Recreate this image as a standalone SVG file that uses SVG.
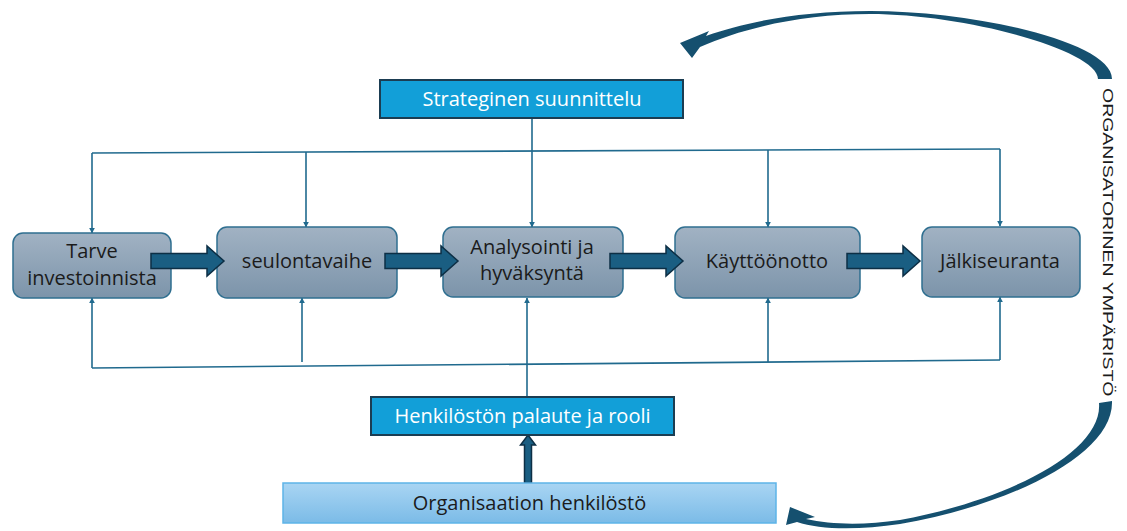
<svg xmlns="http://www.w3.org/2000/svg" width="1127" height="531" viewBox="0 0 1127 531">
<style>
.node rect{fill:url(#ng);stroke:#2f6f90;stroke-width:1.5}
.nt{font-family:"Open Sans","Liberation Sans",sans-serif;font-size:20px;fill:#1b1b1b;text-anchor:middle}
.bt{font-family:"Open Sans","Liberation Sans",sans-serif;font-size:20px;fill:#ffffff;text-anchor:middle}
.conn{fill:none;stroke:#206a8e;stroke-width:1.6}
.big{fill:#1a5e82;stroke:#0d2f45;stroke-width:1.5}
.curve{fill:#15506f}
</style>
<defs>
<linearGradient id="ng" x1="0" y1="0" x2="0" y2="1">
<stop offset="0" stop-color="#a1b2c3"/>
<stop offset="1" stop-color="#7c94aa"/>
</linearGradient>
<linearGradient id="og" x1="0" y1="0" x2="0" y2="1">
<stop offset="0" stop-color="#a9d5f3"/>
<stop offset="1" stop-color="#7bbbe7"/>
</linearGradient>
<marker id="ah" viewBox="0 0 10 10" refX="9" refY="5" markerWidth="6" markerHeight="6" markerUnits="userSpaceOnUse" orient="auto">
<path d="M0,0 L10,5 L0,10 Z" fill="#206a8e"/>
</marker>
</defs>

<g id="connectors">
<path class="conn" d="M92,153 L1000,149"/>
<path class="conn" d="M92,153 L92,233" marker-end="url(#ah)"/>
<path class="conn" d="M306,152 L306,227" marker-end="url(#ah)"/>
<path class="conn" d="M532,119 L532,227" marker-end="url(#ah)"/>
<path class="conn" d="M768,150 L768,227" marker-end="url(#ah)"/>
<path class="conn" d="M1000,149 L1000,226" marker-end="url(#ah)"/>
<path class="conn" d="M92,368 L1000,360"/>
<path class="conn" d="M92,368 L92,298" marker-end="url(#ah)"/>
<path class="conn" d="M302,362 L302,298" marker-end="url(#ah)"/>
<path class="conn" d="M527,397 L527,298" marker-end="url(#ah)"/>
<path class="conn" d="M768,362 L768,298" marker-end="url(#ah)"/>
<path class="conn" d="M1000,360 L1000,297" marker-end="url(#ah)"/>
</g>

<g id="strateginen">
<rect x="380" y="80" width="303" height="38" fill="#129fd8" stroke="#1b3d52" stroke-width="2"/>
<text class="bt" x="532" y="106">Strateginen suunnittelu</text>
</g>

<g id="tarve" class="node">
<rect x="13" y="233" width="158" height="65" rx="10"/>
<text class="nt" x="92" y="258">Tarve</text>
<text class="nt" x="92" y="285">investoinnista</text>
</g>
<g id="seulonta" class="node">
<rect x="217" y="227" width="180" height="71" rx="10"/>
<text class="nt" x="307" y="268">seulontavaihe</text>
</g>
<g id="analysointi" class="node">
<rect x="443" y="227" width="180" height="70" rx="10"/>
<text class="nt" x="532" y="254">Analysointi ja</text>
<text class="nt" x="532" y="280">hyväksyntä</text>
</g>
<g id="kayttoonotto" class="node">
<rect x="675" y="227" width="185" height="71" rx="10"/>
<text class="nt" x="767" y="268">Käyttöönotto</text>
</g>
<g id="jalkiseuranta" class="node">
<rect x="922" y="227" width="158" height="70" rx="10"/>
<text class="nt" x="1000" y="268">Jälkiseuranta</text>
</g>

<g id="flow-arrows">
<path class="big" d="M151,253.5 L207,253.5 L207,246 L224,261 L207,276 L207,268.5 L151,268.5 Z"/>
<path class="big" d="M385,253.5 L441,253.5 L441,246 L458,261 L441,276 L441,268.5 L385,268.5 Z"/>
<path class="big" d="M610,253.5 L666,253.5 L666,246 L683,261 L666,276 L666,268.5 L610,268.5 Z"/>
<path class="big" d="M847,253.5 L903,253.5 L903,246 L920,261 L903,276 L903,268.5 L847,268.5 Z"/>
<path class="big" d="M524.5,483 L524.5,445 L520.5,445 L528,435 L535.5,445 L531.5,445 L531.5,483 Z"/>
</g>

<g id="henkiloston">
<rect x="371" y="397" width="303" height="38" fill="#129fd8" stroke="#1b3d52" stroke-width="2"/>
<text class="bt" x="522.5" y="423">Henkilöstön palaute ja rooli</text>
</g>

<g id="organisaation">
<rect x="283" y="483" width="493" height="40" fill="url(#og)" stroke="#5db4e8" stroke-width="1.5"/>
<text class="nt" x="529.5" y="510">Organisaation henkilöstö</text>
</g>

<g id="ymparisto">
<path class="curve" d="M1112,79 C1112,42 975,11 870,11 C800,11 745,22 706,36 L709,31 L680,43 L692,58 L700,47 C745,27 805,14 870,14 C965,14 1098,50 1098,79 Z"/>
<path class="curve" d="M1112,401 C1114,455 1010,505 900,524 C860,530 820,530 797,522 L786,525 L790,507 L815,517 L806,519 C832,525 866,525 900,520 C1008,500 1103,452 1099,403 Z"/>
<text transform="translate(1103,88) rotate(90) scale(1.3,1)" font-family="Liberation Sans, Arial, sans-serif" font-size="15" fill="#1b1b1b">ORGANISATORINEN YMPÄRISTÖ</text>
</g>
</svg>
